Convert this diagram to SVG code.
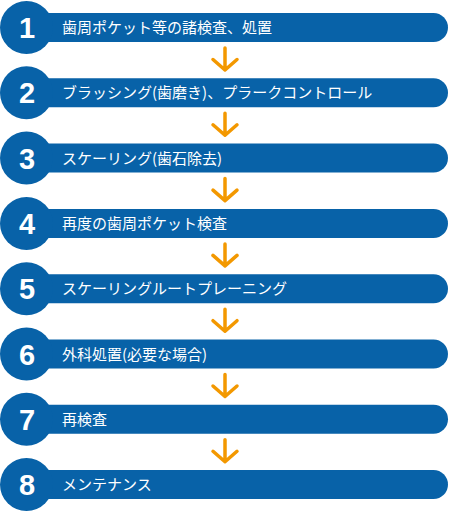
<svg xmlns="http://www.w3.org/2000/svg" width="450" height="518" viewBox="0 0 450 518">
<style>
.bar{fill:#0862a8}
.num{fill:#fff;font-family:"Liberation Sans",Arial,sans-serif;font-weight:bold;font-size:29px;text-anchor:middle}
.lbl{fill:#fff;font-family:"Noto Sans CJK JP","Noto Sans",sans-serif;font-size:15px}
.arr{fill:none;stroke:#f39800;stroke-width:3.5;stroke-linecap:round;stroke-linejoin:round}
</style>
<rect width="450" height="518" fill="#fff"/>
<g id="connectors">
<path class="arr" d="M225,48 V70 M213,59.5 L225,70 L237,59.5"/>
<path class="arr" d="M225,113.3 V135.3 M213,124.8 L225,135.3 L237,124.8"/>
<path class="arr" d="M225,178.6 V200.6 M213,190.1 L225,200.6 L237,190.1"/>
<path class="arr" d="M225,243.9 V265.9 M213,255.4 L225,265.9 L237,255.4"/>
<path class="arr" d="M225,309.2 V331.2 M213,320.7 L225,331.2 L237,320.7"/>
<path class="arr" d="M225,374.5 V396.5 M213,386 L225,396.5 L237,386"/>
<path class="arr" d="M225,439.8 V461.8 M213,451.3 L225,461.8 L237,451.3"/>
</g>
<g id="step1"><rect class="bar" x="20" y="13" width="428" height="29" rx="14.5"/><circle class="bar" cx="26.5" cy="27.5" r="26.5"/><text class="num" x="27" y="38">1</text><text class="lbl" x="62" y="33">歯周ポケット等の諸検査、処置</text></g>
<g id="step2"><rect class="bar" x="20" y="78.3" width="428" height="29" rx="14.5"/><circle class="bar" cx="26.5" cy="92.8" r="26.5"/><text class="num" x="27" y="103.3">2</text><text class="lbl" x="62" y="98.3">ブラッシング(歯磨き)、プラークコントロール</text></g>
<g id="step3"><rect class="bar" x="20" y="143.6" width="428" height="29" rx="14.5"/><circle class="bar" cx="26.5" cy="158.1" r="26.5"/><text class="num" x="27" y="168.6">3</text><text class="lbl" x="62" y="163.6">スケーリング(歯石除去)</text></g>
<g id="step4"><rect class="bar" x="20" y="208.9" width="428" height="29" rx="14.5"/><circle class="bar" cx="26.5" cy="223.4" r="26.5"/><text class="num" x="27" y="233.9">4</text><text class="lbl" x="62" y="228.9">再度の歯周ポケット検査</text></g>
<g id="step5"><rect class="bar" x="20" y="274.2" width="428" height="29" rx="14.5"/><circle class="bar" cx="26.5" cy="288.7" r="26.5"/><text class="num" x="27" y="299.2">5</text><text class="lbl" x="62" y="294.2">スケーリングルートプレーニング</text></g>
<g id="step6"><rect class="bar" x="20" y="339.5" width="428" height="29" rx="14.5"/><circle class="bar" cx="26.5" cy="354" r="26.5"/><text class="num" x="27" y="364.5">6</text><text class="lbl" x="62" y="359.5">外科処置(必要な場合)</text></g>
<g id="step7"><rect class="bar" x="20" y="404.8" width="428" height="29" rx="14.5"/><circle class="bar" cx="26.5" cy="419.3" r="26.5"/><text class="num" x="27" y="429.8">7</text><text class="lbl" x="62" y="424.8">再検査</text></g>
<g id="step8"><rect class="bar" x="20" y="470.1" width="428" height="29" rx="14.5"/><circle class="bar" cx="26.5" cy="484.6" r="26.5"/><text class="num" x="27" y="495.1">8</text><text class="lbl" x="62" y="490.1">メンテナンス</text></g>
</svg>
